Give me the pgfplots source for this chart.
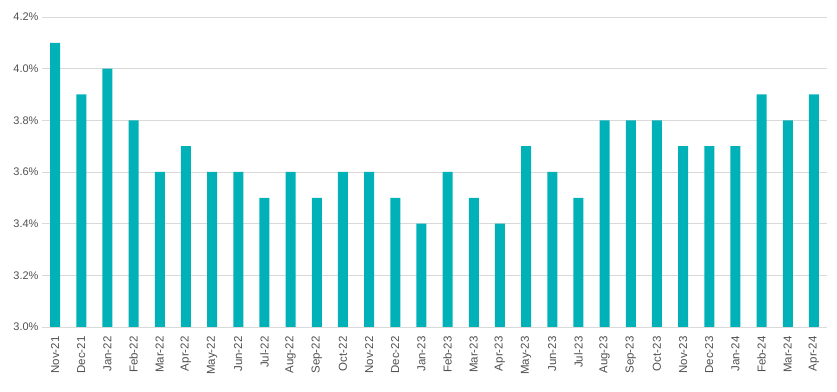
\documentclass[border=0pt]{standalone}
\usepackage{pgfplots}
\pgfplotsset{compat=1.18}
\usepackage{fontspec}
\setmainfont{Liberation Sans}
\definecolor{barc}{RGB}{0,178,183}
\definecolor{tickc}{RGB}{80,80,80}
\definecolor{gridc}{RGB}{217,217,217}
\begin{document}
\begin{tikzpicture}
\begin{axis}[
  name=ax,
  scale only axis,
  width=785pt, height=310pt,
  xmin=-0.5, xmax=29.5,
  ymin=3.0, ymax=4.2,
  ytick={3.0,3.2,3.4,3.6,3.8,4.0,4.2},
  yticklabel={\pgfmathprintnumber[fixed,fixed zerofill,precision=1]{\tick}\%},
  /pgf/number format/assume math mode=true,
  ymajorgrids,
  grid style={gridc, line width=0.8pt},
  axis x line*=bottom,
  axis y line*=left,
  ytick style={draw=none},
  y axis line style={draw=none},
  x axis line style={gridc, line width=0.8pt},
  xtick={0,...,29},
  xticklabels={Nov-21,Dec-21,Jan-22,Feb-22,Mar-22,Apr-22,May-22,Jun-22,Jul-22,Aug-22,Sep-22,Oct-22,Nov-22,Dec-22,Jan-23,Feb-23,Mar-23,Apr-23,May-23,Jun-23,Jul-23,Aug-23,Sep-23,Oct-23,Nov-23,Dec-23,Jan-24,Feb-24,Mar-24,Apr-24},
  x tick label style={rotate=90, anchor=east, xshift=-6pt, font=\fontsize{11.5}{13}\selectfont, text=tickc},
  y tick label style={font=\fontsize{11}{13}\selectfont, text=tickc},
  xtick style={draw=none},
  extra x ticks={-0.5,0.5,...,29.5},
  extra x tick labels={},
  extra x tick style={tick align=outside, major tick length=5pt, tick style={gridc, line width=0.8pt, draw=gridc}, grid=none},
  enlargelimits=false,
  clip=false,
]
\addplot[ybar, bar width=10pt, fill=barc, draw=none] coordinates {
(0,4.1) (1,3.9) (2,4.0) (3,3.8) (4,3.6) (5,3.7) (6,3.6) (7,3.6) (8,3.5) (9,3.6)
(10,3.5) (11,3.6) (12,3.6) (13,3.5) (14,3.4) (15,3.6) (16,3.5) (17,3.4) (18,3.7) (19,3.6)
(20,3.5) (21,3.8) (22,3.8) (23,3.8) (24,3.7) (25,3.7) (26,3.7) (27,3.9) (28,3.8) (29,3.9)
};
\end{axis}
\path[use as bounding box] ([xshift=-42pt, yshift=17pt]ax.north west) rectangle ([xshift=10pt, yshift=-65pt]ax.south east);
\end{tikzpicture}
\end{document}
